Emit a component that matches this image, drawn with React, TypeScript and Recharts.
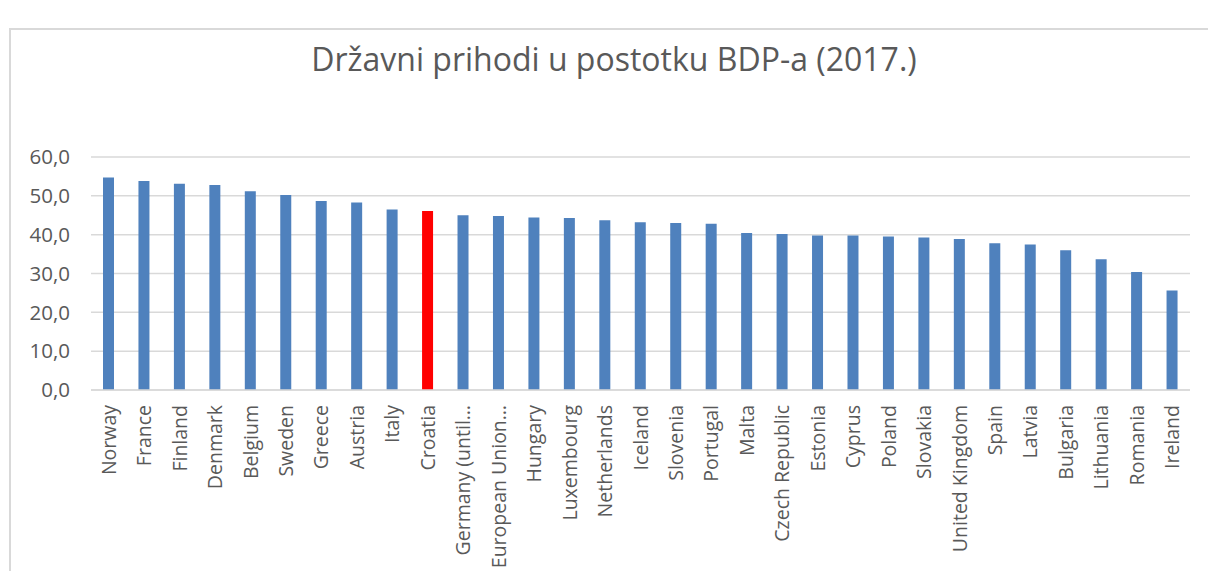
import React from "react";
import { BarChart, Bar, XAxis, YAxis, CartesianGrid, Cell } from "recharts";

const categories = [
  "Norway", "France", "Finland", "Denmark", "Belgium", "Sweden", "Greece", "Austria", "Italy", "Croatia",
  "Germany (until…", "European Union…", "Hungary", "Luxembourg", "Netherlands", "Iceland", "Slovenia", "Portugal",
  "Malta", "Czech Republic", "Estonia", "Cyprus", "Poland", "Slovakia", "United Kingdom", "Spain", "Latvia",
  "Bulgaria", "Lithuania", "Romania", "Ireland",
];
const values = [
  54.7, 53.8, 53.1, 52.8, 51.2, 50.2, 48.7, 48.3, 46.5, 46.1,
  45.0, 44.8, 44.4, 44.3, 43.7, 43.2, 43.0, 42.8,
  40.4, 40.2, 39.8, 39.8, 39.5, 39.3, 38.9, 37.8, 37.5,
  36.0, 33.7, 30.4, 25.6,
];
const highlighted = ["Croatia"];
const yTicks = [0, 10, 20, 30, 40, 50, 60];
const title = "Državni prihodi u postotku BDP-a (2017.)";

const data = categories.map((c, i) => ({ name: c, value: values[i] }));

const FONT = "'Open Sans', sans-serif";
const TEXT = "#595959";

const XTick = (props: any) => {
  const { x, y, payload } = props;
  return (
    <g transform={`translate(${x},${y})`}>
      <text
        transform="rotate(-90)"
        x={-15}
        y={0}
        dy="0.36em"
        textAnchor="end"
        fill={TEXT}
        fontSize={19.5}
        fontFamily={FONT}
      >
        {payload.value}
      </text>
    </g>
  );
};

export default function App() {
  return (
    <div style={{ position: "fixed", left: 0, top: 0, width: 1208, height: 571, overflow: "hidden", background: "#fff" }}>
      <div
        style={{
          position: "absolute",
          left: 9,
          top: 28,
          width: 1300,
          height: 700,
          borderLeft: "2px solid #D9D9D9",
          borderTop: "2px solid #D9D9D9",
        }}
      />
      <div
        style={{
          position: "absolute",
          left: 0,
          top: 37,
          width: 1228,
          textAlign: "center",
          fontFamily: FONT,
          fontSize: 32,
          color: TEXT,
          whiteSpace: "nowrap",
        }}
      >
        {title}
      </div>
      <div style={{ position: "absolute", left: 0, top: 0 }}>
        <BarChart
          width={1208}
          height={571}
          data={data}
          margin={{ top: 157, right: 18, left: 0, bottom: 0 }}
          barSize={11}
        >
          <CartesianGrid vertical={false} stroke="#D9D9D9" strokeWidth={1.5} />
          <XAxis
            dataKey="name"
            interval={0}
            height={181}
            tick={<XTick />}
            tickLine={false}
            tickSize={0}
            tickMargin={0}
            axisLine={{ stroke: "#D9D9D9", strokeWidth: 1.5 }}
          />
          <YAxis
            width={91}
            domain={[0, 60]}
            ticks={yTicks}
            tickFormatter={(v: number) => v.toFixed(1).replace(".", ",")}
            axisLine={false}
            tickLine={false}
            tickSize={0}
            tickMargin={21}
            tick={{ fill: TEXT, fontSize: 20.5, fontFamily: FONT }}
          />
          <Bar dataKey="value" isAnimationActive={false}>
            {data.map((d) => (
              <Cell
                key={d.name}
                fill={highlighted.includes(d.name) ? "#FF0000" : "#4F81BD"}
              />
            ))}
          </Bar>
        </BarChart>
      </div>
    </div>
  );
}
